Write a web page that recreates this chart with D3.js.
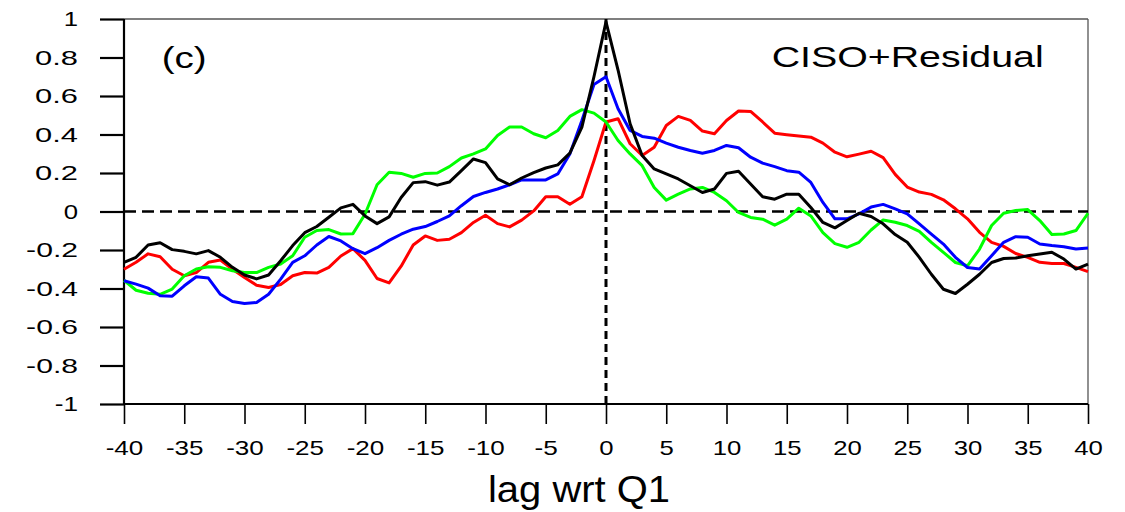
<!DOCTYPE html>
<html>
<head>
<meta charset="utf-8">
<script src="https://cdn.jsdelivr.net/npm/d3@7"></script>
<style>
  body { margin: 0; background: #fff; }
  text { font-family: "Liberation Sans", Arial, Helvetica, sans-serif; fill: #000; }
</style>
</head>
<body>
<div id="my_dataviz"></div>
<script>

// lags in days relative to Q1
var lags = d3.range(-40, 41);

// lag correlations, one value per lag from -40 to 40
var redVals = [
  -0.300, -0.264, -0.220, -0.235, -0.300, -0.334, -0.317, -0.264, -0.252, -0.300,
  -0.343, -0.383, -0.395, -0.379, -0.334, -0.317, -0.320, -0.290, -0.231, -0.193,
  -0.254, -0.348, -0.371, -0.284, -0.174, -0.127, -0.150, -0.144, -0.110, -0.057,
  -0.019, -0.063, -0.080, -0.045, 0.003, 0.077, 0.077, 0.038, 0.077, 0.264,
  0.465,
  0.482, 0.352, 0.291, 0.334, 0.447, 0.494, 0.473, 0.418, 0.404, 0.473,
  0.522, 0.520, 0.465, 0.407, 0.399, 0.392, 0.386, 0.355, 0.308, 0.284,
  0.298, 0.313, 0.280, 0.193, 0.127, 0.101, 0.089, 0.061, 0.014, -0.038,
  -0.108, -0.160, -0.181, -0.218, -0.238, -0.264, -0.270, -0.270, -0.290, -0.312
];
var greenVals = [
  -0.357, -0.409, -0.425, -0.430, -0.403, -0.334, -0.299, -0.287, -0.290, -0.308,
  -0.317, -0.317, -0.290, -0.273, -0.230, -0.134, -0.099, -0.094, -0.117, -0.115,
  -0.014, 0.139, 0.204, 0.198, 0.178, 0.198, 0.200, 0.233, 0.278, 0.299,
  0.325, 0.395, 0.439, 0.439, 0.404, 0.383, 0.421, 0.494, 0.529, 0.511,
  0.465,
  0.369, 0.299, 0.238, 0.125, 0.059, 0.090, 0.117, 0.125, 0.099, 0.056,
  -0.005, -0.031, -0.040, -0.071, -0.040, 0.017, -0.023, -0.110, -0.167, -0.186,
  -0.160, -0.096, -0.044, -0.056, -0.073, -0.103, -0.160, -0.212, -0.265, -0.282,
  -0.195, -0.073, -0.009, 0.005, 0.010, -0.047, -0.120, -0.117, -0.099, -0.009
];
var blueVals = [
  -0.360, -0.377, -0.398, -0.438, -0.440, -0.386, -0.339, -0.346, -0.430, -0.468,
  -0.478, -0.473, -0.430, -0.351, -0.264, -0.230, -0.174, -0.130, -0.153, -0.193,
  -0.219, -0.188, -0.150, -0.118, -0.092, -0.078, -0.052, -0.023, 0.030, 0.078,
  0.099, 0.117, 0.139, 0.164, 0.164, 0.164, 0.195, 0.299, 0.473, 0.660,
  0.700,
  0.534, 0.421, 0.390, 0.381, 0.355, 0.334, 0.317, 0.303, 0.317, 0.343,
  0.331, 0.282, 0.251, 0.233, 0.212, 0.204, 0.151, 0.047, -0.038, -0.038,
  -0.012, 0.023, 0.037, 0.014, -0.012, -0.064, -0.117, -0.169, -0.238, -0.291,
  -0.299, -0.230, -0.160, -0.131, -0.134, -0.169, -0.177, -0.183, -0.195, -0.190
];
var blackVals = [
  -0.264, -0.238, -0.174, -0.162, -0.198, -0.207, -0.220, -0.203, -0.238, -0.290,
  -0.330, -0.350, -0.330, -0.256, -0.177, -0.110, -0.078, -0.030, 0.019, 0.037,
  -0.023, -0.063, -0.028, 0.073, 0.150, 0.155, 0.137, 0.153, 0.212, 0.273,
  0.254, 0.169, 0.139, 0.174, 0.202, 0.226, 0.242, 0.303, 0.438, 0.700,
  0.985,
  0.735, 0.456, 0.291, 0.221, 0.195, 0.169, 0.134, 0.099, 0.117, 0.198,
  0.209, 0.143, 0.077, 0.064, 0.090, 0.090, 0.021, -0.057, -0.085, -0.047,
  -0.009, -0.026, -0.064, -0.120, -0.160, -0.238, -0.326, -0.404, -0.426, -0.378,
  -0.326, -0.265, -0.244, -0.242, -0.230, -0.221, -0.212, -0.247, -0.299, -0.273
];

var seriesColors = ["#ff0000", "#00ff00", "#0000ff", "#000000"];
var seriesVals = [redVals, greenVals, blueVals, blackVals];

var xTicks = [-40, -35, -30, -25, -20, -15, -10, -5, 0, 5, 10, 15, 20, 25, 30, 35, 40];
var yTicks = [-1, -0.8, -0.6, -0.4, -0.2, 0, 0.2, 0.4, 0.6, 0.8, 1];

var panelLabel = "(c)";
var panelTitle = "CISO+Residual";
var xTitle = "lag wrt Q1";

// set the dimensions and margins of the graph
var margin = {top: 19, right: 37, bottom: 108, left: 124},
  width = 1125 - margin.left - margin.right,
  height = 512 - margin.top - margin.bottom;

var svg = d3.select("#my_dataviz")
.append("svg")
  .attr("width", 1125)
  .attr("height", 512)
.append("g")
  .attr("transform", "translate(" + margin.left + "," + margin.top + ")");

var x = d3.scaleLinear().domain([-40, 40]).range([0, width]);
var y = d3.scaleLinear().domain([-1, 1]).range([height, 0]);

// the plot lettering is wide: digits ~14.3px, minus ~9px
function labelWidth(s) {
  var w = 0;
  for (var i = 0; i < s.length; i++) w += (s[i] === "-") ? 9 : 14.3;
  return w;
}

// frame: thin top and right edges
svg.append("line")
  .attr("x1", 0).attr("x2", width).attr("y1", 0).attr("y2", 0)
  .style("stroke", "#555").style("stroke-width", 1.3);
svg.append("line")
  .attr("x1", width).attr("x2", width).attr("y1", 0).attr("y2", height)
  .style("stroke", "#555").style("stroke-width", 1.3);

// X axis
var xAxis = svg.append("g")
  .attr("transform", "translate(0," + height + ")")
  .call(d3.axisBottom(x).tickValues(xTicks).tickSize(20).tickPadding(16)
    .tickFormat(function(d) { return String(d); }));
xAxis.select(".domain").style("stroke-width", 2.2).attr("d", "M0,0H" + width);
xAxis.selectAll(".tick line").style("stroke-width", 1.6);
xAxis.selectAll("text")
  .style("font-size", "21px")
  .attr("textLength", function(d) { return labelWidth(String(d)); })
  .attr("lengthAdjust", "spacingAndGlyphs");

// Y axis
var yAxis = svg.append("g")
  .call(d3.axisLeft(y).tickValues(yTicks).tickSize(24).tickPadding(22)
    .tickFormat(function(d) { return String(d); }));
yAxis.select(".domain").style("stroke-width", 2.2).attr("d", "M0," + height + "V0");
yAxis.selectAll(".tick line").style("stroke-width", 2.2);
yAxis.selectAll("text")
  .style("font-size", "21px")
  .attr("textLength", function(d) { return labelWidth(String(d)); })
  .attr("lengthAdjust", "spacingAndGlyphs");

// reference lines
svg.append("line")
  .attr("x1", 0).attr("x2", width).attr("y1", y(0)).attr("y2", y(0))
  .style("stroke", "#000").style("stroke-width", 2.5)
  .style("stroke-dasharray", "12,6");
svg.append("line")
  .attr("x1", x(0)).attr("x2", x(0)).attr("y1", y(1)).attr("y2", y(-1))
  .style("stroke", "#000").style("stroke-width", 3)
  .style("stroke-dasharray", "8,5");

// the four curves
var line = d3.line()
  .x(function(d) { return x(d[0]); })
  .y(function(d) { return y(d[1]); });

seriesVals.forEach(function(vals, i) {
  svg.append("path")
    .datum(lags.map(function(l, j) { return [l, vals[j]]; }))
    .attr("d", line)
    .style("fill", "none")
    .style("stroke", seriesColors[i])
    .style("stroke-width", 3)
    .style("stroke-linejoin", "round");
});

// labels
svg.append("text")
  .attr("x", 161.7 - margin.left).attr("y", 68 - margin.top)
  .style("font-size", "30px")
  .attr("textLength", 45).attr("lengthAdjust", "spacingAndGlyphs")
  .text(panelLabel);

svg.append("text")
  .attr("x", 771.7 - margin.left).attr("y", 67 - margin.top)
  .style("font-size", "30px")
  .attr("textLength", 272).attr("lengthAdjust", "spacingAndGlyphs")
  .text(panelTitle);

svg.append("text")
  .attr("x", 488 - margin.left).attr("y", 502 - margin.top)
  .style("font-size", "37px")
  .attr("textLength", 182).attr("lengthAdjust", "spacingAndGlyphs")
  .text(xTitle);

</script>
</body>
</html>
